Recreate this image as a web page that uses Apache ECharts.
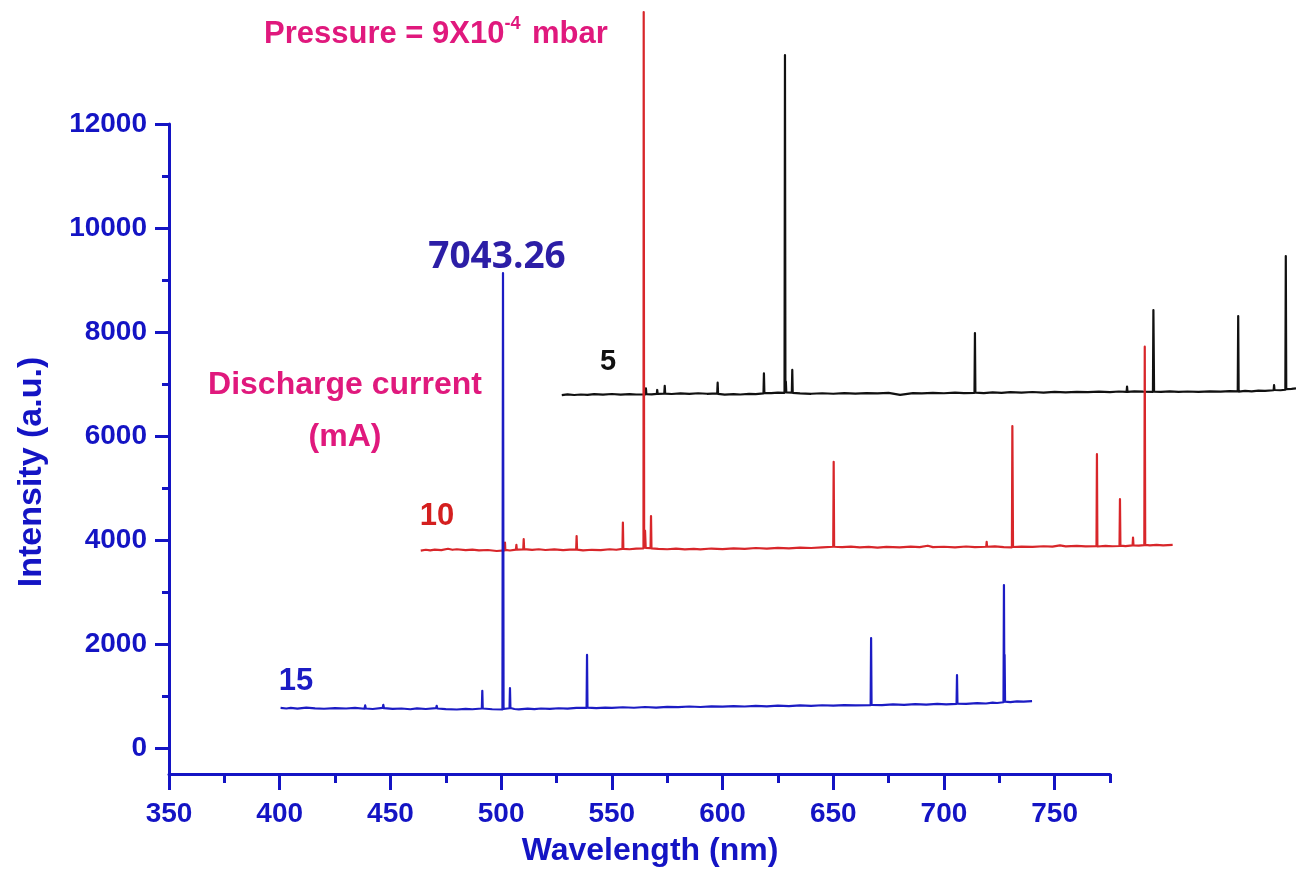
<!DOCTYPE html>
<html>
<head>
<meta charset="utf-8">
<script src="https://cdn.jsdelivr.net/npm/echarts@6/dist/echarts.min.js"></script>
<style>
html,body{margin:0;padding:0;background:#fff;}
#chart{width:1296px;height:870px;}
</style>
</head>
<body>
<div id="chart"></div>
<script>
// Tick values
const xMajorTicks = [350, 400, 450, 500, 550, 600, 650, 700, 750];
const xMinorTicks = [375, 425, 475, 525, 575, 625, 675, 725, 775];
const yMajorTicks = [0, 2000, 4000, 6000, 8000, 10000, 12000];
const yMinorTicks = [1000, 3000, 5000, 7000, 9000, 11000];

// Spectrum at 15 mA (blue) : [wavelength, intensity]
const spectrum15 = [[400.4,770],[403,760],[405,772],[408,758],[412,775],[416,762],[420,755],[425,768],[430,760],[434,770],[438.3,755],[438.6,820],[438.9,760],[442,750],[446.5,770],[446.8,830],[447.1,765],[451,752],[455,760],[459,745],[462,762],[466,750],[470.6,765],[470.9,810],[471.2,760],[475,748],[480,740],[484,752],[487,745],[491.3,760],[491.5,1100],[491.7,760],[496,745],[500.6,740],[500.85,9135],[501.1,750],[503.8,765],[504.0,1150],[504.2,770],[506,750],[508,742],[512,756],[515,748],[518,760],[522,752],[526,764],[530,756],[534,770],[538.6,770],[538.8,1790],[539.0,775],[543,765],[547,778],[550,770],[555,784],[560,774],[565,788],[570,778],[575,792],[580,785],[585,798],[590,788],[595,802],[600,795],[605,806],[610,798],[615,810],[620,802],[625,815],[630,806],[635,818],[640,810],[645,822],[650,815],[655,826],[660,818],[666.9,825],[667.1,2115],[667.3,830],[672,826],[677,838],[682,830],[687,842],[692,836],[697,848],[701,840],[705.7,850],[705.9,1400],[706.1,855],[710,848],[715,862],[719,856],[722,872],[724,865],[726.9,880],[727.1,3135],[727.3,900],[727.4,1790],[727.6,890],[730,882],[733,898],[736,890],[739.8,900]];

// Spectrum at 10 mA (red)
const spectrum10 = [[463.7,3795],[466,3812],[468,3800],[470,3815],[473,3805],[476,3832],[478,3812],[480,3822],[484,3806],[487,3815],[490,3800],[494,3808],[498,3788],[501.6,3800],[501.75,3950],[501.9,3810],[504,3798],[506.7,3815],[506.9,3905],[507.1,3815],[510.0,3820],[510.2,4015],[510.4,3825],[514,3810],[517,3822],[520,3808],[524,3818],[528,3804],[531,3815],[533.9,3815],[534.1,4075],[534.3,3815],[537,3800],[541,3812],[545,3805],[549,3822],[552,3812],[554.8,3830],[555.0,4335],[555.2,3830],[558,3822],[561,3835],[564.3,3840],[564.4,14154],[564.6,3850],[565.0,4180],[565.3,3850],[567.5,3845],[567.7,4460],[567.9,3840],[571,3830],[575,3822],[579,3834],[583,3818],[587,3830],[590,3820],[595,3836],[600,3826],[605,3840],[610,3830],[615,3846],[620,3834],[625,3848],[630,3838],[635,3852],[640,3846],[645,3860],[650.0,3870],[650.2,5505],[650.4,3870],[654,3862],[658,3874],[662,3860],[666,3868],[670,3855],[674,3866],[680,3858],[685,3872],[689,3864],[692.7,3890],[695,3862],[700,3870],[705,3860],[710,3875],[714,3864],[719.1,3870],[719.3,3965],[719.5,3870],[723,3876],[727,3862],[730.7,3860],[730.9,6190],[731.0,5410],[731.2,3865],[735,3872],[740,3866],[745,3880],[749,3872],[752.4,3898],[755,3878],[760,3886],[764,3876],[768.9,3880],[769.1,5650],[769.3,3875],[773,3886],[776,3880],[779.3,3885],[779.5,4785],[779.7,3890],[782,3884],[785.2,3895],[785.4,4045],[785.6,3895],[788,3892],[790.5,3900],[790.7,7717],[790.9,3905],[793,3896],[796,3908],[799,3898],[803.3,3905]];

// Spectrum at 5 mA (black)
const spectrum5 = [[527.4,6785],[530,6800],[533,6788],[536,6798],[539,6790],[542,6806],[546,6795],[550,6808],[554,6796],[558,6805],[561,6798],[565.2,6800],[565.4,6915],[565.6,6805],[568,6800],[570.3,6810],[570.5,6885],[570.7,6810],[573.7,6815],[573.9,6965],[574.1,6815],[577,6808],[581,6818],[585,6810],[589,6822],[593,6812],[597.6,6820],[597.8,7025],[598.0,6810],[601,6796],[605,6806],[608,6798],[612,6810],[615,6805],[618.5,6820],[618.7,7205],[618.9,6830],[622,6824],[625,6834],[628.0,6830],[628.2,13327],[628.4,6840],[628.6,7045],[628.8,6840],[631.3,6835],[631.5,7270],[631.7,6830],[635,6820],[640,6812],[645,6822],[650,6812],[655,6824],[660,6815],[665,6826],[670,6818],[675,6828],[680.2,6790],[681,6815],[686,6826],[690,6818],[695,6830],[700,6822],[705,6834],[709,6826],[713.8,6830],[714.0,7980],[714.2,6835],[718,6826],[722,6838],[726,6830],[730,6842],[735,6834],[740,6846],[745,6836],[750,6848],[755,6840],[760,6850],[765,6842],[770,6852],[775,6845],[779,6856],[782.5,6850],[782.7,6950],[782.9,6850],[786,6858],[790,6852],[794.4,6850],[794.6,8423],[794.7,7925],[794.9,6855],[798,6848],[802,6858],[806,6850],[810,6856],[815,6848],[820,6860],[825,6852],[829,6864],[832.7,6860],[832.9,8308],[833.1,6855],[836,6866],[839,6860],[842,6872],[845,6866],[848.9,6880],[849.1,6980],[849.3,6885],[852,6880],[854.2,6890],[854.4,9462],[854.6,6900],[857,6905],[859,6915]];

const AX = '#1414c4';
const FONT = "'Liberation Sans', Arial, sans-serif";
const X_MIN = 350, X_MAX = 775, Y_MIN = -500, Y_MAX = 12000;
const GRID_LEFT = 169, GRID_RIGHT = 186, GRID_TOP = 124, GRID_BOTTOM = 96, W = 1296;
// the offset spectra run past the right end of the axis: a second (hidden) grid
// with the same nm-per-pixel scale extends to the right edge of the canvas
const X_MAX_EXT = X_MIN + (X_MAX - X_MIN) * (W - GRID_LEFT) / (W - GRID_LEFT - GRID_RIGHT);

const chart = echarts.init(document.getElementById('chart'), null, {renderer: 'canvas'});

function spec(name, data, color, xi, yi) {
  return {
    name: name, type: 'line', data: data, xAxisIndex: xi, yAxisIndex: yi,
    showSymbol: false, symbol: 'none', clip: false, animation: false,
    lineStyle: {color: color, width: 2.2, join: 'round'}, itemStyle: {color: color}
  };
}

chart.setOption({
  backgroundColor: '#ffffff',
  animation: false,
  grid: [
    {left: GRID_LEFT, right: GRID_RIGHT, top: GRID_TOP, bottom: GRID_BOTTOM, containLabel: false},
    {left: GRID_LEFT, right: 0, top: GRID_TOP, bottom: GRID_BOTTOM, containLabel: false}
  ],
  xAxis: [
    {
      type: 'value', min: X_MIN, max: X_MAX, position: 'bottom', gridIndex: 0,
      axisLine: {show: true, onZero: false, lineStyle: {color: AX, width: 3}},
      axisTick: {show: true, customValues: xMajorTicks, length: 16, lineStyle: {color: AX, width: 3}},
      axisLabel: {show: true, customValues: xMajorTicks, color: AX, fontSize: 28, fontWeight: 'bold', fontFamily: FONT, margin: 26, formatter: v => String(v)},
      splitLine: {show: false}
    },
    {
      type: 'value', min: X_MIN, max: X_MAX, position: 'bottom', gridIndex: 0,
      axisLine: {show: false, onZero: false},
      axisTick: {show: true, customValues: xMinorTicks, length: 9, lineStyle: {color: AX, width: 3}},
      axisLabel: {show: false},
      splitLine: {show: false}
    },
    {
      type: 'value', min: X_MIN, max: X_MAX_EXT, gridIndex: 1, show: false,
      axisLine: {onZero: false}, splitLine: {show: false}
    }
  ],
  yAxis: [
    {
      type: 'value', min: Y_MIN, max: Y_MAX, position: 'left', gridIndex: 0,
      axisLine: {show: true, onZero: false, lineStyle: {color: AX, width: 3}},
      axisTick: {show: true, customValues: yMajorTicks, length: 14, lineStyle: {color: AX, width: 3}},
      axisLabel: {show: true, customValues: yMajorTicks, color: AX, fontSize: 28, fontWeight: 'bold', fontFamily: FONT, margin: 22, formatter: v => String(v)},
      splitLine: {show: false}
    },
    {
      type: 'value', min: Y_MIN, max: Y_MAX, position: 'left', gridIndex: 0,
      axisLine: {show: false, onZero: false},
      axisTick: {show: true, customValues: yMinorTicks, length: 7, lineStyle: {color: AX, width: 3}},
      axisLabel: {show: false},
      splitLine: {show: false}
    },
    {
      type: 'value', min: Y_MIN, max: Y_MAX, gridIndex: 1, show: false,
      axisLine: {onZero: false}, splitLine: {show: false}
    }
  ],
  series: [
    spec('5', spectrum5, '#111111', 2, 2),
    spec('10', spectrum10, '#d8262a', 2, 2),
    spec('15', spectrum15, '#1c1cc4', 0, 0)
  ],
  graphic: [
    {type: 'text', left: 264, top: 15, style: {
      text: '{a|Pressure = 9X10}{s|-4}{a| mbar}',
      rich: {
        a: {fontSize: 31, fontWeight: 'bold', fontFamily: FONT, fill: '#e0197d'},
        s: {fontSize: 18, fontWeight: 'bold', fontFamily: FONT, fill: '#e0197d', padding: [0, 3, 20, 0]}
      }
    }},
    {type: 'text', x: 497, y: 257, style: {text: '7043.26', fontSize: 37, fontWeight: 'bold', fontFamily: "'Open Sans', 'Liberation Sans', sans-serif", fill: '#2c1ea6', align: 'center', verticalAlign: 'middle'}},
    {type: 'text', x: 608, y: 362, style: {text: '5', fontSize: 29, fontWeight: 'bold', fontFamily: FONT, fill: '#111111', align: 'center', verticalAlign: 'middle'}},
    {type: 'text', x: 345, y: 385, style: {text: 'Discharge current', fontSize: 32, fontWeight: 'bold', fontFamily: FONT, fill: '#e0197d', align: 'center', verticalAlign: 'middle'}},
    {type: 'text', x: 345, y: 437, style: {text: '(mA)', fontSize: 32, fontWeight: 'bold', fontFamily: FONT, fill: '#e0197d', align: 'center', verticalAlign: 'middle'}},
    {type: 'text', x: 437, y: 516, style: {text: '10', fontSize: 31, fontWeight: 'bold', fontFamily: FONT, fill: '#d41f1f', align: 'center', verticalAlign: 'middle'}},
    {type: 'text', x: 296, y: 681, style: {text: '15', fontSize: 31, fontWeight: 'bold', fontFamily: FONT, fill: '#1c1cc4', align: 'center', verticalAlign: 'middle'}},
    {type: 'text', x: 650, y: 851, style: {text: 'Wavelength (nm)', fontSize: 32, fontWeight: 'bold', fontFamily: FONT, fill: AX, align: 'center', verticalAlign: 'middle'}},
    {type: 'text', x: 32, y: 472, rotation: Math.PI / 2, style: {text: 'Intensity (a.u.)', fontSize: 34, fontWeight: 'bold', fontFamily: FONT, fill: AX, align: 'center', verticalAlign: 'middle'}}
  ]
});
</script>
</body>
</html>
